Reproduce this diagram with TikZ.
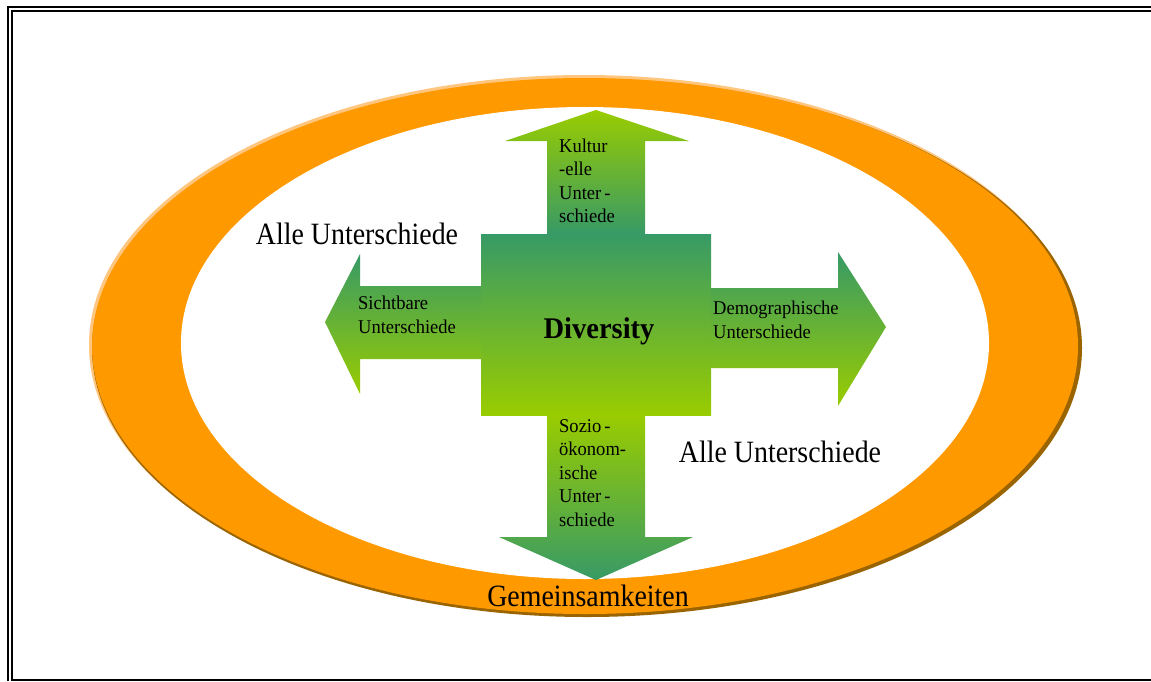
\documentclass[tikz,border=0pt]{standalone}
\usepackage{fontspec}
\setmainfont{Liberation Serif}
\definecolor{dgreen}{HTML}{379A66}
\definecolor{lgreen}{HTML}{99CC00}
\definecolor{orng}{HTML}{FF9900}
\definecolor{brwn}{HTML}{9A6400}
\definecolor{lightorng}{HTML}{FFC680}
\tikzset{
  frameline/.style={line width=2pt, black},
  bigtext/.style={inner sep=0pt, xscale=0.9, font=\fontsize{31}{35}\selectfont},
  smalltext/.style={inner sep=0pt, align=left, anchor=west, xscale=0.95, font=\fontsize{19.5}{23.5}\selectfont},
  darktop/.style={top color=dgreen, bottom color=lgreen},
  brighttop/.style={top color=lgreen, bottom color=dgreen}
}
\begin{document}
\begin{tikzpicture}[x=1pt,y=-1pt]
\useasboundingbox (0,0) rectangle (1151,681);
\fill[white] (0,0) rectangle (1151,681);
% frame
\draw[frameline] (8,681) -- (8,7) -- (1151,7);
\draw[frameline] (1151,10.7) -- (12,10.7) -- (12,680) -- (1151,680);
% orange ring
\fill[lightorng] (584,345) ellipse [x radius=495, y radius=270];
\fill[brwn] (587,348) ellipse [x radius=495, y radius=269];
\fill[orng] (585,346) ellipse [x radius=493, y radius=268];
\fill[white] (585,343) ellipse [x radius=404, y radius=236];
% arrows
\shade[brighttop] (547,234) -- (547,141) -- (505,141) -- (596,110) -- (689,141) -- (645,141) -- (645,234) -- cycle;
\shade[brighttop] (547,415) -- (547,537) -- (499,537) -- (596,580) -- (693,537) -- (645,537) -- (645,415) -- cycle;
\shade[darktop] (481,286) -- (360,286) -- (360,254) -- (325,322) -- (360,394) -- (360,359) -- (481,359) -- cycle;
\shade[darktop] (711,288) -- (838,288) -- (838,252) -- (886,327) -- (838,406) -- (838,368) -- (711,368) -- cycle;
\shade[darktop] (481,234) rectangle (711,415);
% texts
\node[inner sep=0pt, xscale=0.95, font=\fontsize{30}{34}\selectfont\bfseries] (div) at (599,331) {Diversity};
\node[bigtext] (allel) at (357,234) {Alle Unterschiede};
\node[bigtext] (aller) at (780,452) {Alle Unterschiede};
\node[bigtext] (gem) at (588,596) {Gemeinsamkeiten};
\node[smalltext] (sicht) at (358,315) {Sichtbare\\Unterschiede};
\node[smalltext] (demo) at (713,320) {Demographische\\Unterschiede};
\node[smalltext] (kult) at (559,181) {Kultur\\-elle\\Unter\,-\\schiede};
\node[smalltext] (sozio) at (559,473) {Sozio\,-\\ökonom-\\ische\\Unter\,-\\schiede};
\end{tikzpicture}
\end{document}
